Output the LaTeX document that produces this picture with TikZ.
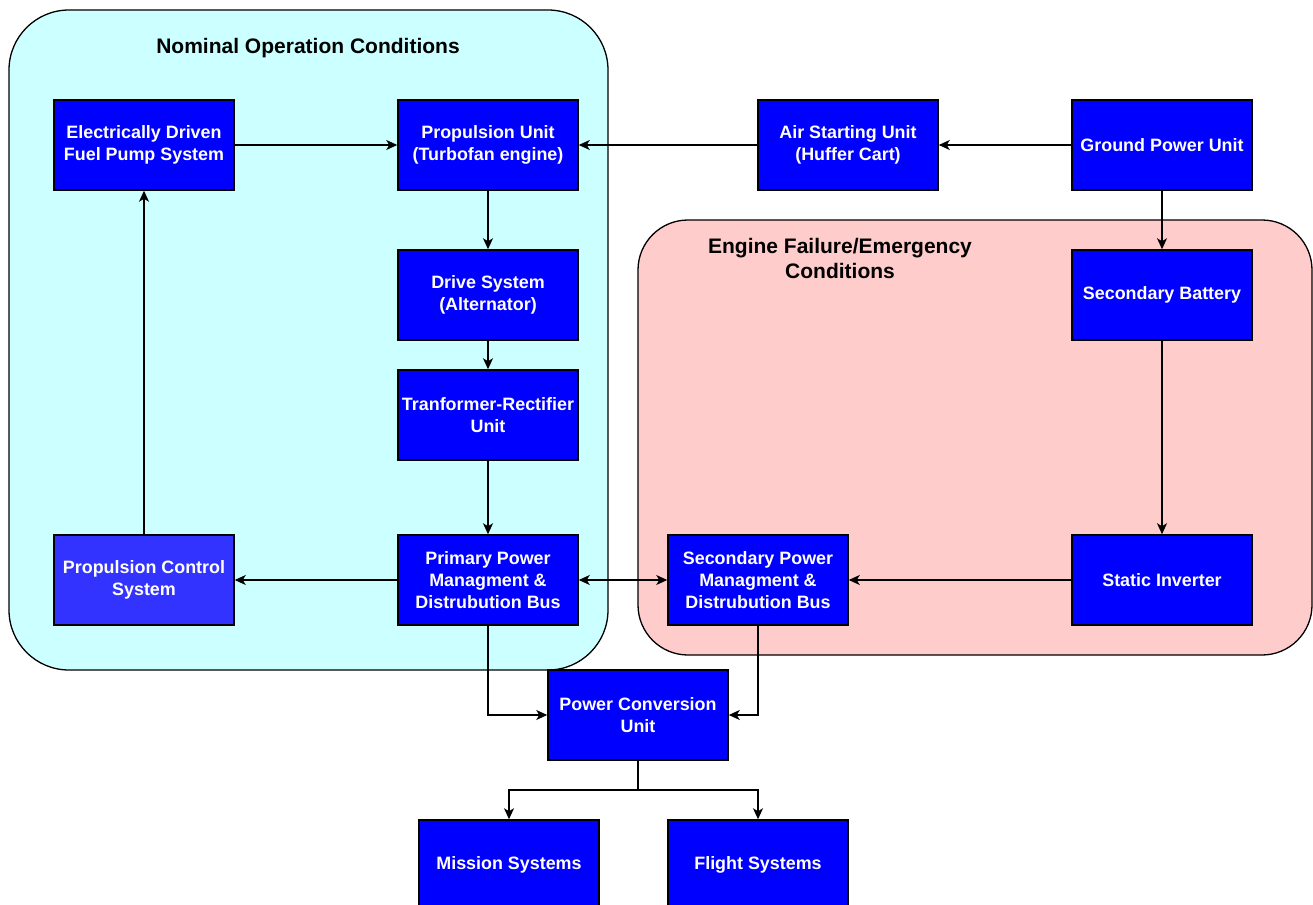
\documentclass[tikz,border=0pt]{standalone}
\usepackage{fontspec}
\setmainfont{Liberation Sans}
\usetikzlibrary{arrows.meta}
\definecolor{boxblue}{HTML}{0000FF}
\definecolor{ctrlblue}{HTML}{3333FF}
\definecolor{nominalbg}{HTML}{CCFFFF}
\definecolor{emergbg}{HTML}{FFCCCC}
\begin{document}
\begin{tikzpicture}[x=1pt,y=-1pt,
  unit/.style={draw=black, line width=1.5pt, fill=boxblue, text=white,
    minimum width=180pt, minimum height=90pt, inner sep=2pt, align=center,
    font=\fontsize{17.9}{22.3}\selectfont\bfseries},
  zone/.style={draw=black, line width=1.3pt},
  title/.style={align=center, font=\fontsize{21}{25}\selectfont\bfseries},
  link/.style={line width=1.3pt, -{Stealth[length=11pt,width=10pt,inset=3pt]}},
  link2/.style={line width=1.3pt, {Stealth[length=11pt,width=10pt,inset=3pt]}-{Stealth[length=11pt,width=10pt,inset=3pt]}}]
\useasboundingbox (0,0) rectangle (1313,904);
\fill[white] (0,0) rectangle (1313,904);

% operating regimes
\draw[zone, fill=nominalbg, rounded corners=60pt] (9,10) rectangle (608,670);
\draw[zone, fill=emergbg, rounded corners=50pt] (638,220) rectangle (1312,655);
\node[title] (tnom) at (308,48) {Nominal Operation Conditions};
\node[title] (temg) at (840,258) {Engine Failure/Emergency\\Conditions};

% units
\node[unit] (fuel) at (144,145) {Electrically Driven\\Fuel Pump System};
\node[unit] (prop) at (488,145) {Propulsion Unit\\(Turbofan engine)};
\node[unit] (air) at (848,145) {Air Starting Unit\\(Huffer Cart)};
\node[unit] (gpu) at (1162,145) {Ground Power Unit};
\node[unit] (drive) at (488,295) {Drive System\\(Alternator)};
\node[unit] (tru) at (488,415) {Tranformer-Rectifier\\Unit};
\node[unit] (ppd) at (488,580) {Primary Power\\Managment \&\\Distrubution Bus};
\node[unit, fill=ctrlblue] (pcs) at (144,580) {Propulsion Control\\System};
\node[unit] (spd) at (758,580) {Secondary Power\\Managment \&\\Distrubution Bus};
\node[unit] (sinv) at (1162,580) {Static Inverter};
\node[unit] (sbat) at (1162,295) {Secondary Battery};
\node[unit] (pcu) at (638,715) {Power Conversion\\Unit};
\node[unit] (mis) at (509,865) {Mission Systems};
\node[unit] (flt) at (758,865) {Flight Systems};

% connections
\draw[link] (fuel) -- (prop);
\draw[link] (air) -- (prop);
\draw[link] (gpu) -- (air);
\draw[link] (gpu) -- (sbat);
\draw[link] (prop) -- (drive);
\draw[link] (drive) -- (tru);
\draw[link] (tru) -- (ppd);
\draw[link] (ppd) -- (pcs);
\draw[link] (pcs) -- (fuel);
\draw[link2] (ppd) -- (spd);
\draw[link] (sinv) -- (spd);
\draw[link] (sbat) -- (sinv);
\draw[link] (ppd.south) |- (pcu.west);
\draw[link] (spd.south) |- (pcu.east);
\coordinate (split) at (638,790);
\draw[line width=1.3pt] (pcu.south) -- (split);
\draw[link] (split) -| (mis.north);
\draw[link] (split) -| (flt.north);
\end{tikzpicture}
\end{document}
